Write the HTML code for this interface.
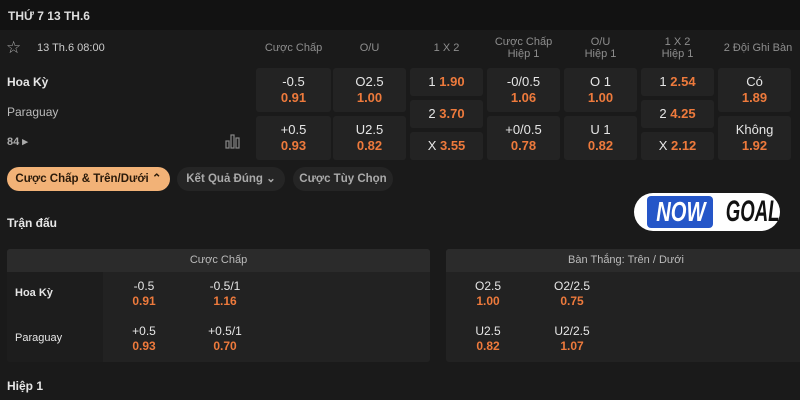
<!DOCTYPE html>
<html><head><meta charset="utf-8"><style>
*{margin:0;padding:0;box-sizing:border-box}
body{width:800px;height:400px;background:#1a1a1a;font-family:"Liberation Sans",Arial,sans-serif;color:#e6e6e6;position:relative;overflow:hidden}
.a{position:absolute}
.top{left:0;top:0;width:800px;height:30px;background:#121212}
.c{position:absolute;background:#232323;border-radius:3px;text-align:center;font-size:13px;line-height:16px}
.o{color:#ee7a3c;font-weight:bold}
.h{position:absolute;color:#8e8e8e;font-size:11px;text-align:center;line-height:12px}
.pill{position:absolute;top:167px;height:24px;border-radius:12px;font-size:11.5px;font-weight:bold;line-height:24px;text-align:center;white-space:nowrap}
.panel{position:absolute;top:249px;height:113px;background:#222;border-radius:3px;overflow:hidden}
.ph{height:23px;background:#2b2b2b;color:#bbb;font-size:11px;text-align:center;line-height:23px}
.v{position:absolute;font-size:12px;text-align:center;line-height:15px;width:50px}
</style></head><body>
<div class="a top"></div>
<div class="a" style="left:8px;top:9px;font-size:12px;font-weight:bold;color:#ddd">THỨ 7 13 TH.6</div>
<div class="a" style="left:6px;top:38px;font-size:17px;color:#aaa">☆</div>
<div class="a" style="left:37px;top:42px;font-size:11px;color:#ccc">13 Th.6 08:00</div>
<div class="a" style="left:7px;top:75px;font-size:12px;font-weight:bold">Hoa Kỳ</div>
<div class="a" style="left:7px;top:105px;font-size:12px;color:#bbb">Paraguay</div>
<div class="a" style="left:7px;top:135px;font-size:11px;color:#aaa;font-weight:bold">84 ▸</div>
<svg class="a" style="left:225px;top:133px" width="16" height="16"><g fill="none" stroke="#888" stroke-width="1.2"><rect x="1" y="8" width="3" height="7"/><rect x="6" y="2" width="3" height="13"/><rect x="11" y="5" width="3" height="10"/></g></svg>

<div class="h" style="left:256px;top:42px;width:75px">Cược Chấp</div>
<div class="h" style="left:333px;top:42px;width:73px">O/U</div>
<div class="h" style="left:410px;top:42px;width:73px">1 X 2</div>
<div class="h" style="left:487px;top:36px;width:73px">Cược Chấp<br>Hiệp 1</div>
<div class="h" style="left:564px;top:36px;width:73px">O/U<br>Hiệp 1</div>
<div class="h" style="left:641px;top:36px;width:73px">1 X 2<br>Hiệp 1</div>
<div class="h" style="left:718px;top:42px;width:80px">2 Đội Ghi Bàn</div>

<div class="c" style="left:256px;top:68px;width:75px;height:44px;padding-top:6px">-0.5<br><span class="o">0.91</span></div>
<div class="c" style="left:256px;top:116px;width:75px;height:44px;padding-top:6px">+0.5<br><span class="o">0.93</span></div>
<div class="c" style="left:333px;top:68px;width:73px;height:44px;padding-top:6px">O2.5<br><span class="o">1.00</span></div>
<div class="c" style="left:333px;top:116px;width:73px;height:44px;padding-top:6px">U2.5<br><span class="o">0.82</span></div>
<div class="c" style="left:410px;top:68px;width:73px;height:28px;line-height:28px">1 <span class="o">1.90</span></div>
<div class="c" style="left:410px;top:100px;width:73px;height:28px;line-height:28px">2 <span class="o">3.70</span></div>
<div class="c" style="left:410px;top:132px;width:73px;height:28px;line-height:28px">X <span class="o">3.55</span></div>
<div class="c" style="left:487px;top:68px;width:73px;height:44px;padding-top:6px">-0/0.5<br><span class="o">1.06</span></div>
<div class="c" style="left:487px;top:116px;width:73px;height:44px;padding-top:6px">+0/0.5<br><span class="o">0.78</span></div>
<div class="c" style="left:564px;top:68px;width:73px;height:44px;padding-top:6px">O 1<br><span class="o">1.00</span></div>
<div class="c" style="left:564px;top:116px;width:73px;height:44px;padding-top:6px">U 1<br><span class="o">0.82</span></div>
<div class="c" style="left:641px;top:68px;width:73px;height:28px;line-height:28px">1 <span class="o">2.54</span></div>
<div class="c" style="left:641px;top:100px;width:73px;height:28px;line-height:28px">2 <span class="o">4.25</span></div>
<div class="c" style="left:641px;top:132px;width:73px;height:28px;line-height:28px">X <span class="o">2.12</span></div>
<div class="c" style="left:718px;top:68px;width:73px;height:44px;padding-top:6px">Có<br><span class="o">1.89</span></div>
<div class="c" style="left:718px;top:116px;width:73px;height:44px;padding-top:6px">Không<br><span class="o">1.92</span></div>

<div class="pill" style="left:7px;width:163px;background:#f2b277;color:#2a1a0a">Cược Chấp &amp; Trên/Dưới ⌃</div>
<div class="pill" style="left:177px;width:108px;background:#252525;color:#aaa">Kết Quả Đúng ⌄</div>
<div class="pill" style="left:293px;width:100px;background:#252525;color:#aaa">Cược Tùy Chọn</div>

<div class="a" style="left:7px;top:216px;font-size:12px;font-weight:bold">Trận đấu</div>
<div class="a" style="left:634px;top:193px;width:146px;height:38px;background:#fff;border-radius:19px"></div>
<div class="a" style="left:647px;top:196px;width:66px;height:32px;background:#2556c8;border-radius:4px"></div>
<div class="a" style="left:647px;top:196px;width:66px;color:#fff;font-size:28px;font-weight:bold;font-style:italic;text-align:center;line-height:32px;transform:scaleX(0.72)">NOW</div>
<div class="a" style="left:714px;top:196px;width:62px;color:#111;font-size:30px;font-weight:bold;font-style:italic;text-align:center;line-height:32px;transform:scaleX(0.62)">GOAL</div>

<div class="panel" style="left:7px;width:423px"><div class="ph">Cược Chấp</div>
<div class="a" style="left:0;top:23px;width:96px;height:90px;background:#1d1d1d"></div>
<div class="a" style="left:8px;top:38px;font-size:11px;font-weight:bold">Hoa Kỳ</div>
<div class="a" style="left:8px;top:83px;font-size:11px">Paraguay</div>
<div class="v" style="left:112px;top:30px">-0.5<br><span class="o">0.91</span></div>
<div class="v" style="left:193px;top:30px">-0.5/1<br><span class="o">1.16</span></div>
<div class="v" style="left:112px;top:75px">+0.5<br><span class="o">0.93</span></div>
<div class="v" style="left:193px;top:75px">+0.5/1<br><span class="o">0.70</span></div>
</div>
<div class="panel" style="left:446px;width:360px"><div class="ph">Bàn Thắng: Trên / Dưới</div>
<div class="v" style="left:17px;top:30px">O2.5<br><span class="o">1.00</span></div>
<div class="v" style="left:101px;top:30px">O2/2.5<br><span class="o">0.75</span></div>
<div class="v" style="left:17px;top:75px">U2.5<br><span class="o">0.82</span></div>
<div class="v" style="left:101px;top:75px">U2/2.5<br><span class="o">1.07</span></div>
</div>
<div class="a" style="left:7px;top:379px;font-size:12px;font-weight:bold">Hiệp 1</div>
</body></html>
